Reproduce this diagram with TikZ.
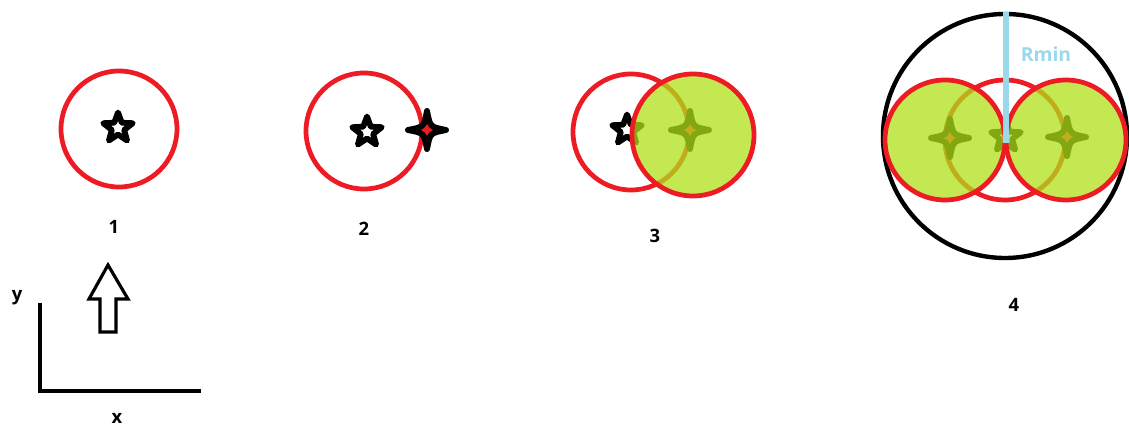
\documentclass[tikz,border=0pt]{standalone}
\usepackage{fontspec}
\setmainfont{Open Sans}
\usepackage{xcolor}
\usetikzlibrary{positioning}

\definecolor{ringred}{RGB}{237,28,36}
\definecolor{limefill}{RGB}{176,224,24}
\definecolor{rminblue}{RGB}{153,217,234}

\begin{document}
\begin{tikzpicture}[
    x=0.02cm, y=-0.02cm,
    ring/.style={draw=ringred, line width=2.7pt},
    bigring/.style={draw=black, line width=2.5pt},
    overlap/.style={fill=limefill, fill opacity=0.75},
    num/.style={font=\bfseries\fontsize{10.5}{12}\selectfont, inner sep=0pt},
    axis/.style={line width=2.8pt},
    starmark/.pic={
      \draw[line width=3.3pt, line join=round, fill=white]
        (-90:15.5) -- (-54:6.5) -- (-18:15.5) -- (18:6.5) -- (54:15.5) -- (90:6.5)
        -- (126:15.5) -- (162:6.5) -- (198:15.5) -- (234:6.5) -- cycle;
    },
    sparkle/.pic={
      \draw[line width=3.4pt, line join=round, fill=ringred]
        (0,-19) .. controls (3,-3) .. (19,0) .. controls (3,3) .. (0,19)
        .. controls (-3,3) .. (-19,0) .. controls (-3,-3) .. (0,-19) -- cycle;
    }
  ]
    \useasboundingbox (0,0) rectangle (1129,428);

    % 1
    \draw[ring] (119,129) circle (58);
    \pic at (118,128) {starmark};
    \node[num] (l1) at (114,227) {1};

    % 2
    \draw[ring] (364,131) circle (58);
    \pic at (367,132) {starmark};
    \pic at (427,130) {sparkle};
    \node[num] (l2) at (364,229) {2};

    % 3
    \draw[ring] (631,132) circle (58);
    \pic at (627,130) {starmark};
    \pic at (690,130) {sparkle};
    \fill[overlap] (693,135) circle (61);
    \draw[ring] (693,135) circle (61);
    \node[num] (l3) at (655,236) {3};

    % 4
    \draw[bigring] (1005,136) circle (122);
    \draw[ring] (1005,140) circle (60);
    \pic at (1006,137) {starmark};
    \pic at (950,138) {sparkle};
    \pic at (1067,137) {sparkle};
    \fill[overlap] (945,140) circle (60);
    \fill[overlap] (1066,140) circle (60);
    \draw[ring] (945,140) circle (60);
    \draw[ring] (1066,140) circle (60);
    \coordinate (rtop) at (1006,12);
    \coordinate (rcen) at (1006,143);
    \draw[rminblue, line width=3.2pt] (rtop) -- (rcen);
    \node[font=\bfseries\fontsize{11}{13}\selectfont, text=rminblue, inner sep=0pt]
      (rmin) at (1046,54) {Rmin};
    \node[num] (l4) at (1014,305) {4};

    % axes and arrow
    \coordinate (org) at (40,391);
    \coordinate (ytop) at (40,303);
    \coordinate (xend) at (201,391);
    \draw[axis] (ytop) -- (org) -- (xend);
    \node[num] (ay) at (17,298) {y};
    \node[num] (ax) at (117,418) {x};
    \draw[line width=1.8pt, line join=miter]
      (108,265) -- (128,299) -- (116,299) -- (116,332) -- (100,332)
      -- (100,299) -- (89,299) -- cycle;
  \end{tikzpicture}
\end{document}
